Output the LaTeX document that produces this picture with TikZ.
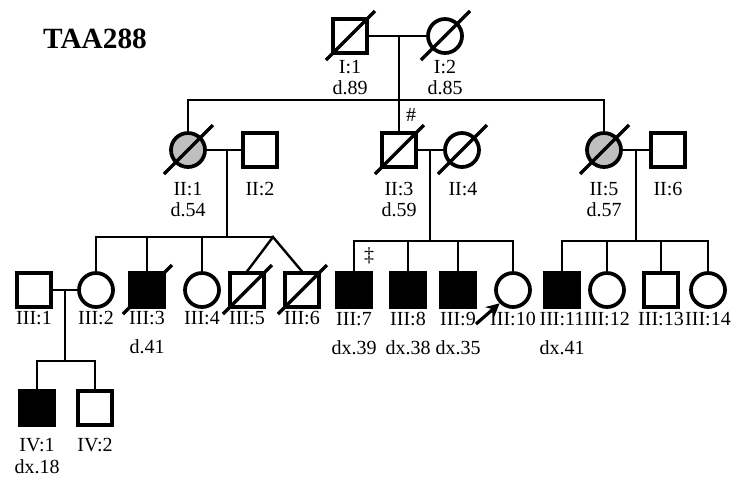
\documentclass[tikz,border=0pt]{standalone}
\usepackage{fontspec}
\setmainfont{Liberation Serif}
\usetikzlibrary{arrows.meta,positioning}

\begin{document}
\begin{tikzpicture}[x=0.75pt, y=-0.75pt,
  sq/.style={draw, rectangle, line width=2.8pt, minimum size=25pt, inner sep=0pt},
  ci/.style={draw, circle, line width=2.8pt, minimum size=25.5pt, inner sep=0pt},
  aff/.style={fill=black},
  grey/.style={fill=gray!50},
  lab/.style={font=\fontsize{15}{17}\selectfont, inner sep=0pt},
  ln/.style={line width=1.8pt},
  dead/.style={line width=2.6pt},
  proband/.style={line width=2.4pt, -{Stealth[length=10pt, width=10pt]}}
]
\useasboundingbox (0,0) rectangle (738,480);
\node[font=\fontsize{22}{24}\selectfont\bfseries] (title) at (95,39) {TAA288};

\node[sq] (i1) at (350,36) {};
\node[ci] (i2) at (445,36) {};

\node[ci, grey] (ii1) at (188,150) {};
\node[sq] (ii2) at (260,150) {};
\node[sq] (ii3) at (399,150) {};
\node[ci] (ii4) at (462,150) {};
\node[ci, grey] (ii5) at (604,150) {};
\node[sq] (ii6) at (668,150) {};

\node[sq] (iii1) at (34,290) {};
\node[ci] (iii2) at (96,290) {};
\node[sq, aff] (iii3) at (147,290) {};
\node[ci] (iii4) at (202,290) {};
\node[sq] (iii5) at (247,290) {};
\node[sq] (iii6) at (302,290) {};
\node[sq, aff] (iii7) at (354,290) {};
\node[sq, aff] (iii8) at (408,290) {};
\node[sq, aff] (iii9) at (458,290) {};
\node[ci] (iii10) at (513,290) {};
\node[sq, aff] (iii11) at (562,290) {};
\node[ci] (iii12) at (607,290) {};
\node[sq] (iii13) at (661,290) {};
\node[ci] (iii14) at (708,290) {};

\node[sq, aff] (iv1) at (37,408) {};
\node[sq] (iv2) at (95,408) {};

\coordinate (m1) at (399,36);
\coordinate (s1) at (399,100);
\coordinate (m2) at (227,150);
\coordinate (tw) at (273,237);
\coordinate (m3) at (430,150);
\coordinate (s3) at (430,241);
\coordinate (m4) at (636,150);
\coordinate (s4) at (636,241);
\coordinate (m5) at (65,290);
\coordinate (s5) at (65,361);
\coordinate (pa) at (476,324);

\draw[ln] (i1) -- (i2);
\draw[ln] (m1) -- (ii3.north);
\draw[ln] (ii1.north) |- (s1) -| (ii5.north);

\draw[ln] (ii1) -- (ii2);
\draw[ln] (ii3) -- (ii4);
\draw[ln] (ii5) -- (ii6);

\draw[ln] (m2) -- (m2 |- tw);
\draw[ln] (iii2.north) |- (tw);
\draw[ln] (iii3.north) -- (iii3.north |- tw);
\draw[ln] (iii4.north) -- (iii4.north |- tw);
\draw[ln] (iii5.north) -- (tw) -- (iii6.north);

\draw[ln] (m3) -- (s3);
\draw[ln] (iii7.north) |- (s3) -| (iii10.north);
\foreach \n in {iii8,iii9}
  \draw[ln] (\n.north) -- (\n.north |- s3);

\draw[ln] (m4) -- (s4);
\draw[ln] (iii11.north) |- (s4) -| (iii14.north);
\foreach \n in {iii12,iii13}
  \draw[ln] (\n.north) -- (\n.north |- s4);

\draw[ln] (iii1) -- (iii2);
\draw[ln] (m5) -- (s5);
\draw[ln] (iv1.north) |- (s5) -| (iv2.north);

\foreach \n in {i1,i2,ii1,ii3,ii4,ii5,iii3,iii5,iii6}
  \draw[dead] ([shift={(-24,24)}]\n.center) -- ([shift={(25,-25)}]\n.center);

\draw[proband] (pa) -- (iii10.south west);
\node[lab] (hash) at (411,115) {\#};
\node[lab] (dd) at (369,256) {‡};

\node[lab] (t-i1) at (350,67) {I:1};
\node[lab] (d-i1) at (350,88) {d.89};
\node[lab] (t-i2) at (445,67) {I:2};
\node[lab] (d-i2) at (445,88) {d.85};

\node[lab] (t-ii1) at (188,189) {II:1};
\node[lab] (d-ii1) at (188,210) {d.54};
\node[lab] (t-ii2) at (260,189) {II:2};
\node[lab] (t-ii3) at (399,189) {II:3};
\node[lab] (d-ii3) at (399,210) {d.59};
\node[lab] (t-ii4) at (463,189) {II:4};
\node[lab] (t-ii5) at (604,189) {II:5};
\node[lab] (d-ii5) at (604,210) {d.57};
\node[lab] (t-ii6) at (668,189) {II:6};

\node[lab] (t-iii1) at (34,318) {III:1};
\node[lab] (t-iii2) at (96,318) {III:2};
\node[lab] (t-iii3) at (147,318) {III:3};
\node[lab] (d-iii3) at (147,347) {d.41};
\node[lab] (t-iii4) at (202,318) {III:4};
\node[lab] (t-iii5) at (247,318) {III:5};
\node[lab] (t-iii6) at (302,318) {III:6};
\node[lab] (t-iii7) at (354,319) {III:7};
\node[lab] (d-iii7) at (354,348) {dx.39};
\node[lab] (t-iii8) at (408,319) {III:8};
\node[lab] (d-iii8) at (408,348) {dx.38};
\node[lab] (t-iii9) at (458,319) {III:9};
\node[lab] (d-iii9) at (458,348) {dx.35};
\node[lab] (t-iii10) at (513,319) {III:10};
\node[lab] (t-iii11) at (562,319) {III:11};
\node[lab] (d-iii11) at (562,348) {dx.41};
\node[lab] (t-iii12) at (607,319) {III:12};
\node[lab] (t-iii13) at (661,319) {III:13};
\node[lab] (t-iii14) at (708,319) {III:14};

\node[lab] (t-iv1) at (37,445) {IV:1};
\node[lab] (d-iv1) at (37,467) {dx.18};
\node[lab] (t-iv2) at (95,445) {IV:2};
\end{tikzpicture}
\end{document}
